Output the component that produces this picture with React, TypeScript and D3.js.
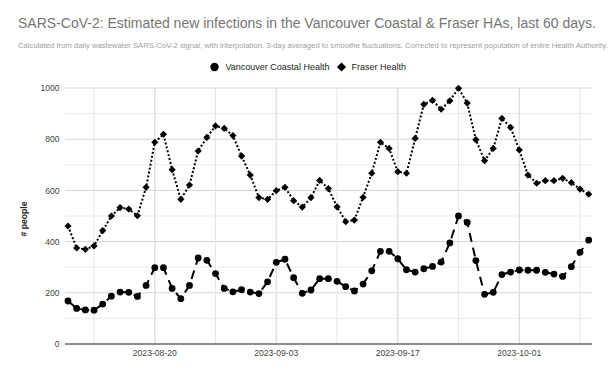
import React from "react";
import * as d3 from "d3";

const startDate = "2023-08-10";
const endDate = "2023-10-09";

const vancouverCoastal = [
  168, 139, 133, 132, 156, 187, 203, 202, 186, 229,
  298, 298, 217, 177, 229, 336, 327, 275, 217, 204,
  212, 203, 197, 243, 319, 331, 259, 198, 211, 255,
  255, 245, 224, 207, 234, 286, 362, 362, 333, 290,
  281, 294, 303, 320, 395, 500, 475, 326, 194, 202,
  271, 281, 289, 288, 288, 280, 273, 264, 302, 358,
  406,
];

const fraser = [
  461, 375, 370, 383, 443, 500, 533, 527, 501, 612,
  788, 819, 681, 565, 621, 754, 807, 852, 842, 814,
  734, 660, 572, 565, 599, 612, 560, 535, 572, 639,
  607, 536, 478, 484, 573, 667, 788, 764, 673, 667,
  803, 936, 952, 917, 950, 999, 941, 798, 716, 764,
  881, 846, 758, 660, 628, 638, 638, 647, 630, 605,
  585,
];

const yTicks = [0, 200, 400, 600, 800, 1000];
const yMinorTicks = [100, 300, 500, 700, 900];
const xLabelDates = ["2023-08-20", "2023-09-03", "2023-09-17", "2023-10-01"];
const xMinorDates = ["2023-08-13", "2023-08-27", "2023-09-10", "2023-09-24", "2023-10-08"];

const seriesNames = ["Vancouver Coastal Health", "Fraser Health"];
const titleText =
  "SARS-CoV-2: Estimated new infections in the Vancouver Coastal & Fraser HAs, last 60 days.";
const subtitleText =
  "Calculated from daily wastewater SARS-CoV-2 signal, with interpolation. 3-day averaged to smoothe fluctuations. Corrected to represent population of entire Health Authority.";
const yAxisTitle = "# people";

const W = 611;
const H = 377;
const plotLeft = 65;
const plotRight = 592;
const plotTop = 88;
const plotBottom = 344;
const FONT = "Arial, 'Liberation Sans', sans-serif";

const parse = d3.utcParse("%Y-%m-%d");

function diamondPath(cx: number, cy: number, r: number) {
  return `M${cx},${cy - r}L${cx + r},${cy}L${cx},${cy + r}L${cx - r},${cy}Z`;
}

export default function App() {
  const dates = d3.utcDay.range(parse(startDate)!, d3.utcDay.offset(parse(endDate)!, 1));
  const first = dates[0];
  const last = dates[dates.length - 1];
  const x = d3.scaleUtc().domain([first, last]).range([68, 588.7]);
  const y = d3.scaleLinear().domain([0, 1000]).range([plotBottom, plotTop]);

  const line = d3
    .line<number>()
    .x((_, i) => x(dates[i]))
    .y((v) => y(v));

  return (
    <svg
      width={W}
      height={H}
      style={{ position: "absolute", left: 0, top: 0, background: "#fff" }}
      fontFamily={FONT}
    >
      <rect x={0} y={0} width={W} height={H} fill="#fff" />
      <text x={18} y={28} fontSize={14} fill="#757575">
        {titleText}
      </text>
      <text x={18} y={48} fontSize={7.7} fill="#9e9e9e">
        {subtitleText}
      </text>

      {/* legend */}
      <g>
        <circle cx={214.5} cy={67} r={4.2} fill="#000" />
        <text x={225.5} y={70} fontSize={9} fill="#222">
          {seriesNames[0]}
        </text>
        <path d={diamondPath(341.5, 67, 4.6)} fill="#000" />
        <text x={351.5} y={70} fontSize={9} fill="#222">
          {seriesNames[1]}
        </text>
      </g>

      {/* gridlines */}
      {yMinorTicks.map((t) => (
        <line key={"ym" + t} x1={plotLeft} x2={plotRight} y1={y(t)} y2={y(t)} stroke="#ebebeb" strokeWidth={1} />
      ))}
      {yTicks.map((t) => (
        <line key={"y" + t} x1={plotLeft} x2={plotRight} y1={y(t)} y2={y(t)} stroke="#d6d6d6" strokeWidth={1} />
      ))}
      {xMinorDates.map((d) => (
        <line key={"xm" + d} x1={x(parse(d)!)} x2={x(parse(d)!)} y1={plotTop} y2={plotBottom} stroke="#e6e6e6" strokeWidth={1} />
      ))}
      {xLabelDates.map((d) => (
        <line key={"x" + d} x1={x(parse(d)!)} x2={x(parse(d)!)} y1={plotTop} y2={plotBottom} stroke="#e0e0e0" strokeWidth={1.5} />
      ))}

      {/* y tick labels */}
      {yTicks.map((t) => (
        <text key={"yl" + t} x={59.5} y={y(t) + 3.2} fontSize={8.6} fill="#444" textAnchor="end">
          {t}
        </text>
      ))}
      {/* x tick labels */}
      {xLabelDates.map((d) => (
        <text key={"xl" + d} x={x(parse(d)!)} y={356} fontSize={8.6} fill="#444" textAnchor="middle">
          {d}
        </text>
      ))}
      <text
        transform={`translate(27,${(plotTop + plotBottom) / 2 + 3}) rotate(-90)`}
        fontSize={8.6}
        fontWeight="bold"
        fill="#222"
        textAnchor="middle"
      >
        {yAxisTitle}
      </text>

      {/* baseline */}
      <line x1={plotLeft} x2={plotRight} y1={plotBottom} y2={plotBottom} stroke="#333" strokeWidth={1} />

      {/* Fraser: dotted with diamonds */}
      <path d={line(fraser) || ""} fill="none" stroke="#000" strokeWidth={2} strokeDasharray="2,2" />
      {fraser.map((v, i) => (
        <path key={"f" + i} d={diamondPath(x(dates[i]), y(v), 3.6)} fill="#000" />
      ))}

      {/* Vancouver Coastal: dashed with circles */}
      <path d={line(vancouverCoastal) || ""} fill="none" stroke="#000" strokeWidth={2} strokeDasharray="9,6" />
      {vancouverCoastal.map((v, i) => (
        <circle key={"v" + i} cx={x(dates[i])} cy={y(v)} r={3.4} fill="#000" />
      ))}
    </svg>
  );
}
